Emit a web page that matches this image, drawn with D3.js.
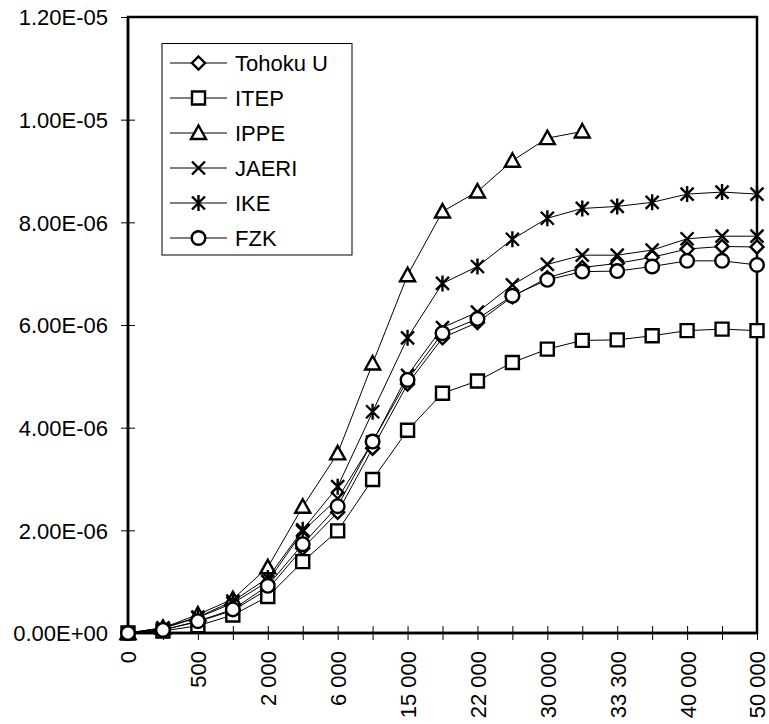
<!DOCTYPE html>
<html><head><meta charset="utf-8">
<script src="https://cdn.jsdelivr.net/npm/d3@7"></script>
<style>body{margin:0;background:#fff}</style>
</head><body><svg id="c" width="769" height="724"></svg>
<script>
// ---- data (y values in units of 1e-6) ----
const UNIT = 1e-6;
const categories = ["0","100","500","1 000","2 000","4 000","6 000","10 000","15 000","18 000","22 000","26 000","30 000","32 000","33 300","36 000","40 000","45 000","50 000"];
const seriesNames = ["Tohoku U","ITEP","IPPE","JAERI","IKE","FZK"];
const tohokuU = [0, 0.06, 0.22, 0.44, 0.85, 1.65, 2.35, 3.60, 4.85, 5.75, 6.05, 6.55, 6.92, 7.12, 7.20, 7.32, 7.48, 7.53, 7.52];
const itep    = [0, 0.04, 0.14, 0.35, 0.71, 1.39, 1.99, 2.99, 3.95, 4.67, 4.91, 5.27, 5.53, 5.70, 5.71, 5.79, 5.89, 5.92, 5.89];
const ippe    = [0, 0.10, 0.36, 0.66, 1.28, 2.46, 3.50, 5.25, 6.97, 8.21, 8.60, 9.20, 9.64, 9.77, null, null, null, null, null];
const jaeri   = [0, 0.09, 0.30, 0.58, 1.00, 1.98, 2.62, 3.72, 5.02, 5.95, 6.25, 6.78, 7.18, 7.36, 7.36, 7.46, 7.68, 7.73, 7.73];
const ike     = [0, 0.10, 0.31, 0.62, 1.07, 2.01, 2.85, 4.31, 5.75, 6.81, 7.14, 7.67, 8.08, 8.27, 8.31, 8.39, 8.55, 8.59, 8.55];
const fzk     = [0, 0.06, 0.23, 0.46, 0.92, 1.73, 2.47, 3.73, 4.93, 5.84, 6.12, 6.57, 6.88, 7.04, 7.05, 7.14, 7.25, 7.25, 7.17];
const yTicks = [0, 2e-6, 4e-6, 6e-6, 8e-6, 1e-5, 1.2e-5];
const markers = ["diamond","square","triangle","x","star","circle"];

const seriesValues = [tohokuU, itep, ippe, jaeri, ike, fzk];
const series = seriesNames.map((n,i)=>({name:n, marker:markers[i],
  values: seriesValues[i].map((v,j)=>({cat:categories[j], v: v==null?null:v*UNIT}))}));

// ---- layout ----
const L = 128, R = 757, T = 17, B = 633;
const svg = d3.select("#c");
const font = "'Liberation Sans', Arial, sans-serif";
const fs = 22;
const mw = 2.4;

const x = d3.scalePoint().domain(categories).range([L, R]);
const y = d3.scaleLinear().domain([0, 1.2e-5]).range([B, T]);

function fmt(d){
  if (d === 0) return "0.00E+00";
  const s = d.toExponential(2).split("e");
  const e = parseInt(s[1],10);
  return s[0] + "E" + (e<0?"-":"+") + String(Math.abs(e)).padStart(2,"0");
}

function markerPath(type){
  switch(type){
    case "diamond": return "M0,-6.5L6.5,0L0,6.5L-6.5,0Z";
    case "square": return "M-6.5,-6.5H6.5V6.5H-6.5Z";
    case "triangle": return "M0,-7.5L7.5,6L-7.5,6Z";
    case "circle": return "M6.8,0A6.8,6.8 0 1 1 -6.8,0A6.8,6.8 0 1 1 6.8,0Z";
    case "x": return "M-6.5,-6.5L6.5,6.5M6.5,-6.5L-6.5,6.5";
    case "star": return "M-6.5,-6.5L6.5,6.5M6.5,-6.5L-6.5,6.5M0,-8V8";
  }
}

// plot box
svg.append("rect").attr("x",L).attr("y",T).attr("width",R-L).attr("height",B-T)
  .attr("fill","none").attr("stroke","#000").attr("stroke-width",2.5);

// y axis
const ya = svg.append("g").attr("transform",`translate(${L},0)`)
  .call(d3.axisLeft(y).tickValues(yTicks).tickFormat(fmt).tickSizeInner(6.5).tickSizeOuter(0).tickPadding(13));
ya.select(".domain").remove();
ya.selectAll(".tick line").attr("x1",7).attr("x2",-7).attr("stroke","#000").attr("stroke-width",1);
ya.selectAll(".tick text").attr("font-family",font).attr("font-size",fs).attr("fill","#000").attr("x",-20).attr("dy","0.36em");

// x axis
const xa = svg.append("g").attr("transform",`translate(0,${B})`)
  .call(d3.axisBottom(x).tickSizeOuter(0).tickFormat((d,i)=> i%2===0 ? d : ""));
xa.select(".domain").remove();
xa.selectAll(".tick line").attr("y1",-7).attr("y2",7).attr("stroke","#000").attr("stroke-width",1);
xa.selectAll(".tick text").attr("font-family",font).attr("font-size",fs).attr("fill","#000")
  .attr("transform","rotate(-90)").attr("text-anchor","end").attr("x",-18).attr("y",0).attr("dy","0.36em");

// axis lines thick on top
svg.append("line").attr("x1",L).attr("x2",L).attr("y1",T).attr("y2",B).attr("stroke","#000").attr("stroke-width",2.5);
svg.append("line").attr("x1",L).attr("x2",R).attr("y1",B).attr("y2",B).attr("stroke","#000").attr("stroke-width",2.5);

// series
const line = d3.line().defined(d=>d.v!=null).x(d=>x(d.cat)).y(d=>y(d.v));
series.forEach(s=>{
  const g = svg.append("g");
  g.append("path").attr("d",line(s.values)).attr("fill","none").attr("stroke","#000").attr("stroke-width",1);
  g.selectAll("path.m").data(s.values.filter(d=>d.v!=null)).join("path").attr("class","m")
    .attr("transform",d=>`translate(${x(d.cat)},${y(d.v)})`)
    .attr("d",markerPath(s.marker))
    .attr("fill",(s.marker==="x"||s.marker==="star")?"none":"#fff")
    .attr("stroke","#000").attr("stroke-width",mw);
});

// legend
const lg = svg.append("g");
lg.append("rect").attr("x",162).attr("y",43.5).attr("width",190).attr("height",211.5)
  .attr("fill","#fff").attr("stroke","#000").attr("stroke-width",1);
series.forEach((s,i)=>{
  const cy = 63 + i*35;
  lg.append("line").attr("x1",170).attr("x2",227).attr("y1",cy).attr("y2",cy).attr("stroke","#000").attr("stroke-width",1);
  lg.append("path").attr("transform",`translate(198.5,${cy})`).attr("d",markerPath(s.marker))
    .attr("fill",(s.marker==="x"||s.marker==="star")?"none":"#fff").attr("stroke","#000").attr("stroke-width",mw);
  lg.append("text").attr("x",235).attr("y",cy).attr("dy","0.36em").attr("font-family",font).attr("font-size",fs).attr("fill","#000").text(s.name);
});
</script>
</body></html>
